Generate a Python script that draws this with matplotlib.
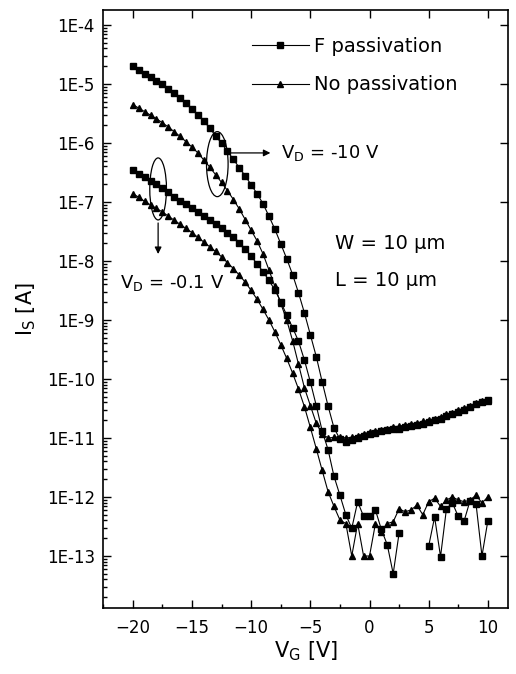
import numpy as np
import matplotlib.pyplot as plt
from matplotlib.patches import Ellipse
from matplotlib.transforms import ScaledTranslation
from matplotlib.ticker import LogLocator, FixedLocator, FuncFormatter, MultipleLocator

plt.rcParams['font.family'] = ['DejaVu Sans']
plt.rcParams['mathtext.default'] = 'regular'

# gate sweep, 0.5 V step
vg = np.linspace(-20, 10, 61)

# log10(Is)
# F passivation, VD = -10 V (squares)
f_vd10 = [-4.70, -4.76, -4.83, -4.89, -4.95, -5.01, -5.09, -5.16, -5.24, -5.33,
          -5.42, -5.52, -5.63, -5.75, -5.88, -6.01, -6.14, -6.28, -6.42, -6.56,
          -6.71, -6.86, -7.03, -7.24, -7.46, -7.71, -7.96, -8.23, -8.54, -8.88,
          -9.25, -9.62, -10.05, -10.46, -10.83, -11.02, -11.06, -11.04, -11.00, -10.97,
          -10.93, -10.91, -10.89, -10.87, -10.85, -10.84, -10.82, -10.80, -10.78, -10.76,
          -10.73, -10.70, -10.67, -10.63, -10.60, -10.56, -10.52, -10.47, -10.43, -10.39,
          -10.35]
# no passivation, VD = -10 V (triangles)
n_vd10 = [-5.35, -5.41, -5.47, -5.53, -5.59, -5.66, -5.73, -5.81, -5.89, -5.98,
          -6.07, -6.17, -6.29, -6.41, -6.54, -6.67, -6.81, -6.96, -7.12, -7.30,
          -7.48, -7.66, -7.88, -8.15, -8.43, -8.72, -9.00, -9.35, -9.75, -10.15,
          -10.45, -10.75, -10.93, -11.00, -10.99, -10.98, -11.00, -10.99, -10.96, -10.93,
          -10.90, -10.88, -10.86, -10.84, -10.82, -10.80, -10.78, -10.77, -10.75, -10.72,
          -10.70, -10.67, -10.64, -10.60, -10.57, -10.53, -10.49, -10.45, -10.41, -10.38,
          -10.37]
# F passivation, VD = -0.1 V (squares), gap where no data
f_vd01 = [-6.46, -6.52, -6.58, -6.64, -6.70, -6.77, -6.84, -6.91, -6.98, -7.04,
          -7.11, -7.17, -7.24, -7.31, -7.38, -7.45, -7.52, -7.59, -7.69, -7.80,
          -7.92, -8.05, -8.18, -8.33, -8.49, -8.69, -8.92, -9.13, -9.36, -9.68,
          -10.05, -10.45, -10.88, -11.20, -11.65, -11.97, -12.30, -12.53, -12.08, -12.33,
          -12.33, -12.22, -12.55, -12.81, -13.30, -12.61, np.nan, np.nan, np.nan, np.nan,
          -12.83, -12.34, -13.01, -12.20, -12.10, -12.33, -12.40, -12.06, -12.12, -13.00,
          -12.40]
# no passivation, VD = -0.1 V (triangles)
n_vd01 = [-6.86, -6.92, -6.99, -7.05, -7.11, -7.17, -7.24, -7.31, -7.38, -7.45,
          -7.52, -7.60, -7.68, -7.76, -7.84, -7.93, -8.03, -8.13, -8.24, -8.36,
          -8.50, -8.65, -8.82, -9.00, -9.20, -9.42, -9.65, -9.90, -10.17, -10.47,
          -10.82, -11.18, -11.55, -11.91, -12.16, -12.39, -12.45, -13.00, -12.45, -13.00,
          -13.00, -12.45, -12.60, -12.45, -12.42, -12.20, -12.25, -12.22, -12.14, -12.30,
          -12.08, -12.02, -12.16, -12.05, -12.00, -12.05, -12.08, -12.05, -11.97, -12.10,
          -12.00]

decades = np.arange(-13, -3)

fig = plt.figure(figsize=(5.16, 6.74), dpi=100)
ax = fig.add_axes([0.2, 0.098, 0.7845, 0.887])

sq = dict(color='k', lw=0.8, marker='s', ms=4)
tri = dict(color='k', lw=0.8, marker='^', ms=4.5)
ax.plot(vg, 10.0 ** np.array(f_vd10), label='F passivation', **sq)
ax.plot(vg, 10.0 ** np.array(n_vd10), label='No passivation', **tri)
ax.plot(vg, 10.0 ** np.array(f_vd01), **sq)
ax.plot(vg, 10.0 ** np.array(n_vd01), **tri)

ax.set_yscale('log')
ax.set_xlim(-22.5, 11.7)
ax.set_ylim(10 ** -13.88, 10 ** -3.75)
ax.xaxis.set_major_locator(MultipleLocator(5))
ax.xaxis.set_minor_locator(MultipleLocator(2.5))
ax.yaxis.set_major_locator(FixedLocator(10.0 ** decades))
ax.yaxis.set_minor_locator(LogLocator(base=10, subs=np.arange(2, 10), numticks=20))
ax.yaxis.set_major_formatter(FuncFormatter(lambda v, p: '1E%d' % round(np.log10(v))))

ax.tick_params(which='both', direction='in', labelsize=12, width=1)
ax.tick_params(which='major', length=6, top=True, right=True)
ax.tick_params(which='minor', length=3, top=False, right=False)
ax.tick_params(axis='x', pad=8)
ax.tick_params(axis='y', pad=6)
for s in ax.spines.values():
    s.set_linewidth(1.2)

ax.set_xlabel('$V_G$ [V]', fontsize=15, labelpad=2)
ax.set_ylabel('$I_S$ [A]', fontsize=15, labelpad=6)

ax.legend(loc='upper left', bbox_to_anchor=(0.368, 0.955), frameon=False,
          fontsize=14, handlelength=2.9, handletextpad=0.3, labelspacing=1.0,
          borderpad=0, borderaxespad=0)

# ellipses + arrows marking the two drain biases
for cx, cy, w, h in [(-12.86, 10 ** -6.36, 0.216, 0.65), (-17.86, 10 ** -6.78, 0.167, 0.62)]:
    ax.add_patch(Ellipse((0, 0), w, h, fill=False, lw=0.9, color='k',
                         transform=fig.dpi_scale_trans + ScaledTranslation(cx, cy, ax.transData)))

arw = dict(arrowstyle='-|>', color='k', lw=0.9, mutation_scale=10)
ax.annotate('', xy=(-8.14, 10 ** -6.17), xytext=(-11.95, 10 ** -6.17), arrowprops=arw)
ax.annotate('', xy=(-17.86, 10 ** -7.93), xytext=(-17.86, 10 ** -7.31), arrowprops=arw)

ax.text(-7.49, 10 ** -6.17, '$V_D$ = -10 V', fontsize=13, va='center', ha='left')
ax.text(-21.1, 10 ** -8.37, '$V_D$ = -0.1 V', fontsize=13, va='center', ha='left')
ax.text(-2.93, 10 ** -7.70, 'W = 10 \u03bcm', fontsize=14, va='center', ha='left')
ax.text(-2.93, 10 ** -8.34, 'L = 10 \u03bcm', fontsize=14, va='center', ha='left')

fig.savefig('out.png', dpi=100)
